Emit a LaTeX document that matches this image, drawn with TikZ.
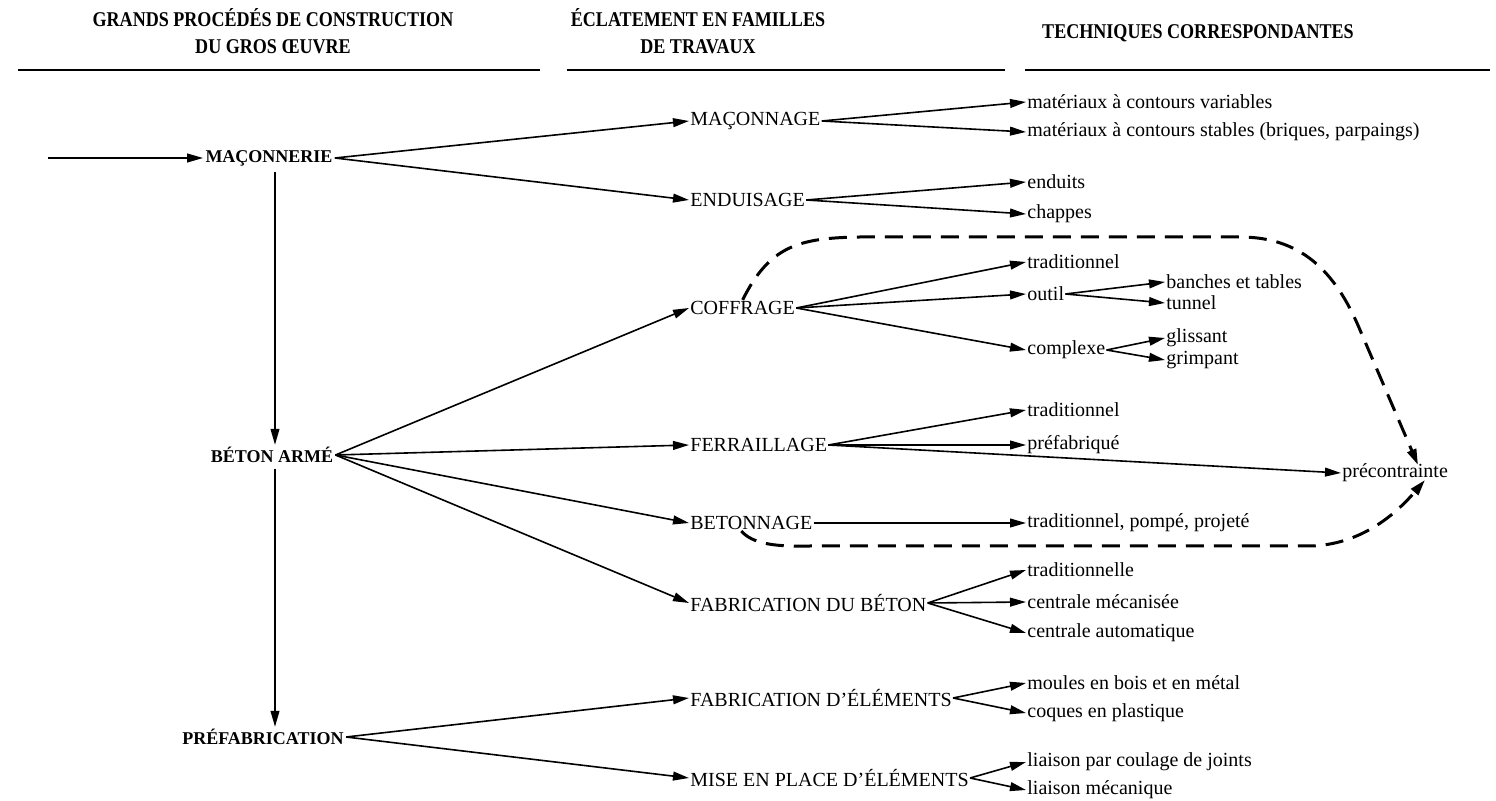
\documentclass[tikz,border=0pt]{standalone}
\usepackage{fontspec}
\setmainfont{Liberation Serif}
\newfontfamily\entetefont[FakeStretch=0.86]{Liberation Serif}
\usetikzlibrary{arrows.meta,calc}

\begin{document}
\begin{tikzpicture}[x=0.5pt,y=-0.5pt,
  fleche/.style={line width=0.8pt,-{Triangle[length=8pt,width=4.4pt]}},
  pointille/.style={line width=1.5pt,dash pattern=on 9pt off 5pt,-{Triangle[length=8pt,width=4.6pt]}},
  filet/.style={line width=1pt},
  entete/.style={font=\entetefont\bfseries\fontsize{10.5}{13.5}\selectfont,align=center},
  procede/.style={font=\fontsize{9}{11}\selectfont\bfseries,inner sep=1pt},
  famille/.style={font=\fontsize{10}{12}\selectfont,anchor=west,inner sep=0.5pt},
  technique/.style={font=\fontsize{10}{12}\selectfont,anchor=west,inner sep=0.5pt}]
\useasboundingbox (0,0) rectangle (1496,801);

% en-tetes des colonnes
\node[entete] (ent1) at (273,31) {GRANDS PROCÉDÉS DE CONSTRUCTION\\DU GROS ŒUVRE};
\node[entete] (ent2) at (698,31) {ÉCLATEMENT EN FAMILLES\\DE TRAVAUX};
\node[entete] (ent3) at (1198,33) {TECHNIQUES CORRESPONDANTES};
\draw[filet] (18,70) -- (540,70);
\draw[filet] (567,70) -- (1005,70);
\draw[filet] (1025,70) -- (1490,70);

% grands procedes
\node[procede] (maconnerie) at (269,158) {MAÇONNERIE};
\node[procede] (beton) at (272,455) {BÉTON ARMÉ};
\node[procede] (prefab) at (263,737) {PRÉFABRICATION};
\coordinate (entree) at (48,158);
\coordinate (axe) at (275,0);
\draw[fleche] (entree) -- (maconnerie.west);
\draw[fleche,shorten <=2pt] (maconnerie.south -| axe) -- (beton.north -| axe);
\draw[fleche,shorten <=2pt] (beton.south -| axe) -- (prefab.north -| axe);

% familles de travaux
\node[famille] (maconnage) at (689,121) {MAÇONNAGE};
\node[famille] (enduisage) at (689,200) {ENDUISAGE};
\node[famille] (coffrage) at (689,308) {COFFRAGE};
\node[famille] (ferraillage) at (689,445) {FERRAILLAGE};
\node[famille] (betonnage) at (689,523) {BETONNAGE};
\node[famille] (fabbeton) at (689,603) {FABRICATION DU BÉTON};
\node[famille] (fabelem) at (689,698) {FABRICATION D’ÉLÉMENTS};
\node[famille] (miseplace) at (689,778) {MISE EN PLACE D’ÉLÉMENTS};
\draw[fleche] (maconnerie.east) -- (maconnage.west);
\draw[fleche] (maconnerie.east) -- (enduisage.west);
\draw[fleche] (beton.east) -- (coffrage.west);
\draw[fleche] (beton.east) -- (ferraillage.west);
\draw[fleche] (beton.east) -- (betonnage.west);
\draw[fleche] (beton.east) -- (fabbeton.west);
\draw[fleche] (prefab.east) -- (fabelem.west);
\draw[fleche] (prefab.east) -- (miseplace.west);

% techniques
\node[technique] (variables) at (1026,102) {matériaux à contours variables};
\node[technique] (stables) at (1026,132) {matériaux à contours stables (briques, parpaings)};
\node[technique] (enduits) at (1026,182) {enduits};
\node[technique] (chappes) at (1026,214) {chappes};
\node[technique] (tradcof) at (1026,262) {traditionnel};
\node[technique] (outil) at (1026,294) {outil};
\node[technique] (complexe) at (1026,350) {complexe};
\node[technique] (banches) at (1165,282) {banches et tables};
\node[technique] (tunnel) at (1165,303) {tunnel};
\node[technique] (glissant) at (1165,338) {glissant};
\node[technique] (grimpant) at (1165,360) {grimpant};
\node[technique] (tradfer) at (1026,410) {traditionnel};
\node[technique] (prefabrique) at (1026,445) {préfabriqué};
\node[technique] (precontrainte) at (1341,473) {précontrainte};
\node[technique] (tradbet) at (1026,523) {traditionnel, pompé, projeté};
\node[technique] (tradfab) at (1026,570) {traditionnelle};
\node[technique] (mecanisee) at (1026,602) {centrale mécanisée};
\node[technique] (automatique) at (1026,633) {centrale automatique};
\node[technique] (moules) at (1026,683) {moules en bois et en métal};
\node[technique] (coques) at (1026,713) {coques en plastique};
\node[technique] (coulage) at (1026,762) {liaison par coulage de joints};
\node[technique] (mecanique) at (1026,790) {liaison mécanique};
\draw[fleche] (maconnage.east) -- (variables.west);
\draw[fleche] (maconnage.east) -- (stables.west);
\draw[fleche] (enduisage.east) -- (enduits.west);
\draw[fleche] (enduisage.east) -- (chappes.west);
\draw[fleche] (coffrage.east) -- (tradcof.west);
\draw[fleche] (coffrage.east) -- (outil.west);
\draw[fleche] (coffrage.east) -- (complexe.west);
\draw[fleche] (outil.east) -- (banches.west);
\draw[fleche] (outil.east) -- (tunnel.west);
\draw[fleche] (complexe.east) -- (glissant.west);
\draw[fleche] (complexe.east) -- (grimpant.west);
\draw[fleche] (ferraillage.east) -- (tradfer.west);
\draw[fleche] (ferraillage.east) -- (prefabrique.west);
\draw[fleche] (ferraillage.east) -- (precontrainte.west);
\draw[fleche] (betonnage.east) -- (tradbet.west);
\draw[fleche] (fabbeton.east) -- (tradfab.west);
\draw[fleche] (fabbeton.east) -- (mecanisee.west);
\draw[fleche] (fabbeton.east) -- (automatique.west);
\draw[fleche] (fabelem.east) -- (moules.west);
\draw[fleche] (fabelem.east) -- (coques.west);
\draw[fleche] (miseplace.east) -- (coulage.west);
\draw[fleche] (miseplace.east) -- (mecanique.west);

% renvois en pointille vers la precontrainte
\coordinate (pchaut) at ($(precontrainte.west)+(77,-8)$);
\coordinate (pcbas) at ($(precontrainte.west)+(84,7)$);
\draw[pointille] (coffrage.north) .. controls (770,245) and (800,238) .. (860,237)
  -- (1240,237) .. controls (1300,237) and (1335,270) .. (1360,330) -- (pchaut);
\draw[pointille] ($(betonnage.south)+(-10,0)$) .. controls (752,543) and (772,547) .. (810,546)
  -- (1310,546) .. controls (1360,545) and (1395,515) .. (pcbas);
\end{tikzpicture}
\end{document}
